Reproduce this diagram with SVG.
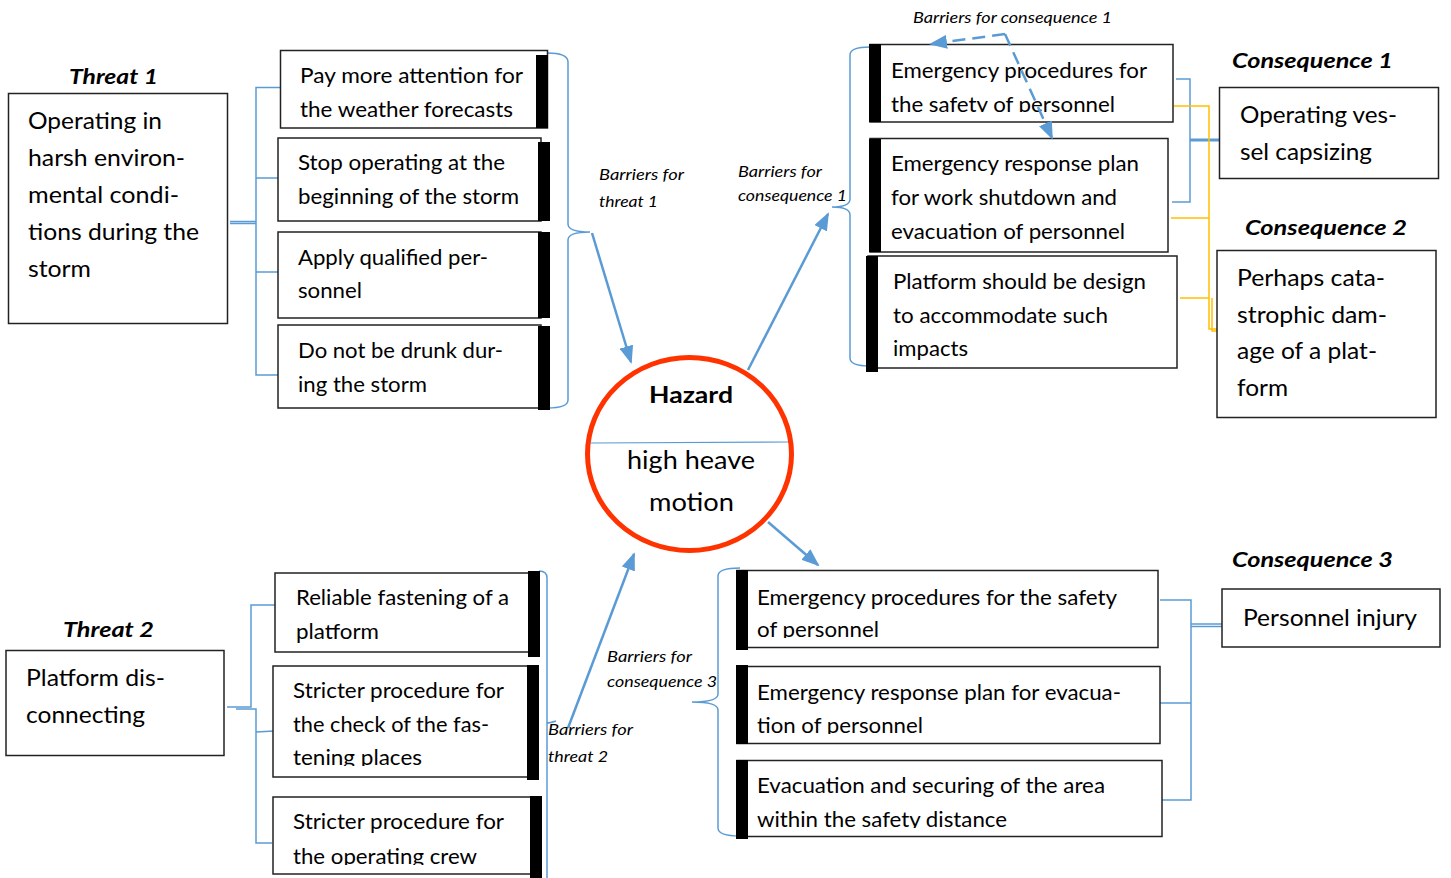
<svg xmlns="http://www.w3.org/2000/svg" width="1451" height="878" viewBox="0 0 1451 878">
<style>
.box{fill:#fff;stroke:#222;stroke-width:1.5}
.bar{fill:#000}
.t{font-family:Lato,"Open Sans","Liberation Sans",sans-serif;font-size:21px;fill:#000}
.tl{font-family:Lato,"Open Sans","Liberation Sans",sans-serif;font-size:23px;fill:#000}
.ttl{font-family:Lato,"Open Sans","Liberation Sans",sans-serif;font-size:21px;font-weight:bold;font-style:italic;fill:#000}
.lab{font-family:Lato,"Open Sans","Liberation Sans",sans-serif;font-size:15px;font-style:italic;fill:#000}
.br{fill:none;stroke:#5B9BD5;stroke-width:1.5}
.ye{fill:none;stroke:#FFC000;stroke-width:1.5}
.ar{fill:none;stroke:#5B9BD5;stroke-width:2.5}
</style>
<defs>
<marker id="ah" markerUnits="userSpaceOnUse" markerWidth="18" markerHeight="14" refX="16" refY="7" orient="auto">
<path d="M0,0 L18,7 L0,14 Z" fill="#5B9BD5"/>
</marker>
<clipPath id="c1"><rect x="860" y="0" width="330" height="112"/></clipPath>
<clipPath id="c2"><rect x="260" y="600" width="290" height="166"/></clipPath>
<clipPath id="c3"><rect x="260" y="780" width="290" height="85"/></clipPath>
<clipPath id="c4"><rect x="730" y="560" width="440" height="78"/></clipPath>
<clipPath id="c5"><rect x="730" y="660" width="440" height="74"/></clipPath>
<clipPath id="c6"><rect x="730" y="750" width="440" height="78"/></clipPath>
</defs>

<g id="connectors">
<!-- threat 1 bracket -->
<path class="br" d="M230,221.5 H256 M230,223.5 H256 M280,87.5 H256 V375 H280 M256,178 H278 M256,272 H280"/>
<!-- threat 1 barriers brace -->
<path class="br" d="M547,53 Q568,53 568,62 V224 Q568,232 590,232 Q568,232 568,240 V400 Q568,408 547,408"/>
<path class="ar" d="M592,233 L631,362" marker-end="url(#ah)"/>
<!-- hazard to consequence 1 barriers -->
<path class="ar" d="M748,370 L828,214" marker-end="url(#ah)"/>
<path class="br" d="M870,47 Q850,47 850,55 V199 Q850,207 832,207 Q850,207 850,215 V358 Q850,366 870,366"/>
<!-- consequence 1 blue -->
<path class="br" d="M1176,79 H1190 V202 H1172"/>
<path d="M1190,140 H1225" stroke="#5B9BD5" stroke-width="3"/>
<!-- consequence 2 yellow -->
<path class="ye" d="M1174,106 H1209 V329 H1222 M1171,218 H1209 M1180,298 H1209 M1212,298 V331 H1222"/>
<!-- hazard to consequence 3 barriers -->
<path class="ar" d="M768,522 L818,565" marker-end="url(#ah)"/>
<path class="br" d="M740,568 Q718,568 718,576 V694 Q718,702 692,702 Q718,702 718,710 V828 Q718,836 740,836"/>
<!-- consequence 3 blue -->
<path class="br" d="M1160,600 H1191 V800 H1162 M1160,703 H1191"/>
<path class="br" d="M1191,624 H1222 M1191,626.5 H1222"/>
<!-- threat 2 bracket -->
<path class="br" d="M227,707 H251 V605 H275 M236,709 H256 V843 H272 M256,732 L274,731"/>
<!-- threat 2 barriers brace -->
<path class="br" d="M539,571 Q547,571 547,578 V878 M547,723 Q550,723 556,721"/>
<path class="ar" d="M568,728 L634,554" marker-end="url(#ah)"/>
</g>

<g id="threat1">
<text class="ttl" x="113.5" y="84" text-anchor="middle" textLength="89" lengthAdjust="spacingAndGlyphs">Threat 1</text>
<rect class="box" x="8.5" y="93.5" width="219" height="230"/>
<text class="tl" x="28" y="129" textLength="134" lengthAdjust="spacingAndGlyphs">Operating in</text>
<text class="tl" x="28" y="166" textLength="157" lengthAdjust="spacingAndGlyphs">harsh environ-</text>
<text class="tl" x="28" y="203" textLength="151" lengthAdjust="spacingAndGlyphs">mental condi-</text>
<text class="tl" x="28" y="240" textLength="171" lengthAdjust="spacingAndGlyphs">tions during the</text>
<text class="tl" x="28" y="277" textLength="63" lengthAdjust="spacingAndGlyphs">storm</text>
</g>

<g id="threat2">
<text class="ttl" x="108.5" y="637" text-anchor="middle" textLength="91" lengthAdjust="spacingAndGlyphs">Threat 2</text>
<rect class="box" x="6" y="650.5" width="218" height="105"/>
<text class="tl" x="26" y="686" textLength="139" lengthAdjust="spacingAndGlyphs">Platform dis-</text>
<text class="tl" x="26" y="723" textLength="119" lengthAdjust="spacingAndGlyphs">connecting</text>
</g>

<g id="barrier-t1-1">
<rect class="box" x="280.5" y="50.5" width="267" height="77.5"/>
<rect class="bar" x="536" y="55" width="12" height="73"/>
<text class="t" x="300" y="83" textLength="223" lengthAdjust="spacingAndGlyphs">Pay more attention for</text>
<text class="t" x="300" y="117" textLength="213" lengthAdjust="spacingAndGlyphs">the weather forecasts</text>
</g>
<g id="barrier-t1-2">
<rect class="box" x="278" y="138" width="263" height="83"/>
<rect class="bar" x="538" y="142" width="12" height="79"/>
<text class="t" x="298" y="170" textLength="207" lengthAdjust="spacingAndGlyphs">Stop operating at the</text>
<text class="t" x="298" y="204" textLength="221" lengthAdjust="spacingAndGlyphs">beginning of the storm</text>
</g>
<g id="barrier-t1-3">
<rect class="box" x="278" y="232" width="263" height="86"/>
<rect class="bar" x="538" y="232" width="12" height="86"/>
<text class="t" x="298" y="265" textLength="190" lengthAdjust="spacingAndGlyphs">Apply qualified per-</text>
<text class="t" x="298" y="298" textLength="64" lengthAdjust="spacingAndGlyphs">sonnel</text>
</g>
<g id="barrier-t1-4">
<rect class="box" x="278" y="325" width="263" height="83"/>
<rect class="bar" x="538" y="326" width="12" height="84"/>
<text class="t" x="298" y="358" textLength="205" lengthAdjust="spacingAndGlyphs">Do not be drunk dur-</text>
<text class="t" x="298" y="392" textLength="129" lengthAdjust="spacingAndGlyphs">ing the storm</text>
</g>

<g id="label-t1">
<text class="lab" x="599" y="180" textLength="85" lengthAdjust="spacingAndGlyphs">Barriers for</text>
<text class="lab" x="599" y="207" textLength="59" lengthAdjust="spacingAndGlyphs">threat 1</text>
</g>
<g id="label-c1">
<text class="lab" x="738" y="177" textLength="84" lengthAdjust="spacingAndGlyphs">Barriers for</text>
<text class="lab" x="738" y="201" textLength="109" lengthAdjust="spacingAndGlyphs">consequence 1</text>
</g>
<g id="label-c1-top">
<text class="lab" x="913" y="23" textLength="199" lengthAdjust="spacingAndGlyphs">Barriers for consequence 1</text>
</g>
<g id="label-c3">
<text class="lab" x="607" y="662" textLength="85" lengthAdjust="spacingAndGlyphs">Barriers for</text>
<text class="lab" x="607" y="687" textLength="110" lengthAdjust="spacingAndGlyphs">consequence 3</text>
</g>
<g id="label-t2">
<text class="lab" x="548" y="735" textLength="85" lengthAdjust="spacingAndGlyphs">Barriers for</text>
<text class="lab" x="548" y="762" textLength="60" lengthAdjust="spacingAndGlyphs">threat 2</text>
</g>

<g id="hazard">
<ellipse cx="689.5" cy="454" rx="102" ry="96.5" fill="#fff" stroke="#FF3300" stroke-width="5"/>
<line x1="590" y1="443" x2="788" y2="442" stroke="#5B9BD5" stroke-width="1.2"/>
<text x="691" y="403" text-anchor="middle" font-family="Lato,'Open Sans','Liberation Sans',sans-serif" font-size="23" font-weight="bold" textLength="84" lengthAdjust="spacingAndGlyphs">Hazard</text>
<text x="691" y="469" text-anchor="middle" font-family="Lato,'Open Sans','Liberation Sans',sans-serif" font-size="25" textLength="128" lengthAdjust="spacingAndGlyphs">high heave</text>
<text x="691.5" y="511" text-anchor="middle" font-family="Lato,'Open Sans','Liberation Sans',sans-serif" font-size="25" textLength="85" lengthAdjust="spacingAndGlyphs">motion</text>
</g>

<g id="barrier-c1-1">
<rect class="box" x="870" y="44.5" width="303" height="77.5"/>
<rect class="bar" x="869" y="44" width="12" height="78"/>
<text class="t" x="891" y="78" textLength="256" lengthAdjust="spacingAndGlyphs">Emergency procedures for</text>
<text class="t" x="891" y="112" clip-path="url(#c1)" textLength="224" lengthAdjust="spacingAndGlyphs">the safety of personnel</text>
</g>
<g id="barrier-c1-2">
<rect class="box" x="870" y="138.5" width="298" height="113.5"/>
<rect class="bar" x="869" y="139" width="12" height="113"/>
<text class="t" x="891" y="171" textLength="248" lengthAdjust="spacingAndGlyphs">Emergency response plan</text>
<text class="t" x="891" y="205" textLength="226" lengthAdjust="spacingAndGlyphs">for work shutdown and</text>
<text class="t" x="891" y="239" textLength="234" lengthAdjust="spacingAndGlyphs">evacuation of personnel</text>
</g>
<g id="barrier-c1-3">
<rect class="box" x="868" y="256" width="309" height="112"/>
<rect class="bar" x="866" y="256" width="12" height="116"/>
<text class="t" x="893" y="289" textLength="253" lengthAdjust="spacingAndGlyphs">Platform should be design</text>
<text class="t" x="893" y="323" textLength="215" lengthAdjust="spacingAndGlyphs">to accommodate such</text>
<text class="t" x="893" y="356" textLength="75" lengthAdjust="spacingAndGlyphs">impacts</text>
</g>

<g id="consequence1">
<text class="ttl" x="1232" y="68" textLength="161" lengthAdjust="spacingAndGlyphs">Consequence 1</text>
<rect class="box" x="1219.5" y="87.5" width="219" height="91"/>
<text class="tl" x="1240" y="123" textLength="157" lengthAdjust="spacingAndGlyphs">Operating ves-</text>
<text class="tl" x="1240" y="160" textLength="132" lengthAdjust="spacingAndGlyphs">sel capsizing</text>
</g>
<g id="consequence2">
<text class="ttl" x="1245" y="235" textLength="162" lengthAdjust="spacingAndGlyphs">Consequence 2</text>
<rect class="box" x="1217" y="250.5" width="219" height="167"/>
<text class="tl" x="1237" y="286" textLength="148" lengthAdjust="spacingAndGlyphs">Perhaps cata-</text>
<text class="tl" x="1237" y="323" textLength="150" lengthAdjust="spacingAndGlyphs">strophic dam-</text>
<text class="tl" x="1237" y="359" textLength="140" lengthAdjust="spacingAndGlyphs">age of a plat-</text>
<text class="tl" x="1237" y="396" textLength="51" lengthAdjust="spacingAndGlyphs">form</text>
</g>
<g id="consequence3">
<text class="ttl" x="1232" y="567" textLength="161" lengthAdjust="spacingAndGlyphs">Consequence 3</text>
<rect class="box" x="1222" y="589" width="218" height="58"/>
<text class="tl" x="1243" y="626" textLength="174" lengthAdjust="spacingAndGlyphs">Personnel injury</text>
</g>

<g id="barrier-t2-1">
<rect class="box" x="275" y="573" width="254" height="79"/>
<rect class="bar" x="528" y="571" width="12" height="86"/>
<text class="t" x="296" y="605" textLength="213" lengthAdjust="spacingAndGlyphs">Reliable fastening of a</text>
<text class="t" x="296" y="639" textLength="83" lengthAdjust="spacingAndGlyphs">platform</text>
</g>
<g id="barrier-t2-2">
<rect class="box" x="273" y="666" width="255" height="111"/>
<rect class="bar" x="527" y="665" width="12" height="115"/>
<text class="t" x="293" y="698" textLength="211" lengthAdjust="spacingAndGlyphs">Stricter procedure for</text>
<text class="t" x="293" y="732" textLength="196" lengthAdjust="spacingAndGlyphs">the check of the fas-</text>
<text class="t" x="293" y="765" clip-path="url(#c2)" textLength="129" lengthAdjust="spacingAndGlyphs">tening places</text>
</g>
<g id="barrier-t2-3">
<rect class="box" x="273" y="797" width="258" height="77"/>
<rect class="bar" x="530" y="796" width="12" height="82"/>
<text class="t" x="293" y="829" textLength="211" lengthAdjust="spacingAndGlyphs">Stricter procedure for</text>
<text class="t" x="293" y="864" clip-path="url(#c3)" textLength="184" lengthAdjust="spacingAndGlyphs">the operating crew</text>
</g>

<g id="barrier-c3-1">
<rect class="box" x="737" y="570.5" width="421" height="77"/>
<rect class="bar" x="736" y="570" width="12" height="80"/>
<text class="t" x="757" y="605" textLength="360" lengthAdjust="spacingAndGlyphs">Emergency procedures for the safety</text>
<text class="t" x="757" y="637" clip-path="url(#c4)" textLength="122" lengthAdjust="spacingAndGlyphs">of personnel</text>
</g>
<g id="barrier-c3-2">
<rect class="box" x="737" y="666.5" width="423" height="77"/>
<rect class="bar" x="736" y="665" width="12" height="79"/>
<text class="t" x="757" y="700" textLength="364" lengthAdjust="spacingAndGlyphs">Emergency response plan for evacua-</text>
<text class="t" x="757" y="733" clip-path="url(#c5)" textLength="166" lengthAdjust="spacingAndGlyphs">tion of personnel</text>
</g>
<g id="barrier-c3-3">
<rect class="box" x="737" y="760.5" width="425" height="76"/>
<rect class="bar" x="736" y="760" width="12" height="79"/>
<text class="t" x="757" y="793" textLength="348" lengthAdjust="spacingAndGlyphs">Evacuation and securing of the area</text>
<text class="t" x="757" y="827" clip-path="url(#c6)" textLength="250" lengthAdjust="spacingAndGlyphs">within the safety distance</text>
</g>

<g id="connectors-dashed">
<path class="ar" d="M1005,34 L931,44" stroke-dasharray="13,7" marker-end="url(#ah)"/>
<path class="ar" d="M1005,34 L1052,138" stroke-dasharray="13,7" marker-end="url(#ah)"/>
</g>
</svg>
